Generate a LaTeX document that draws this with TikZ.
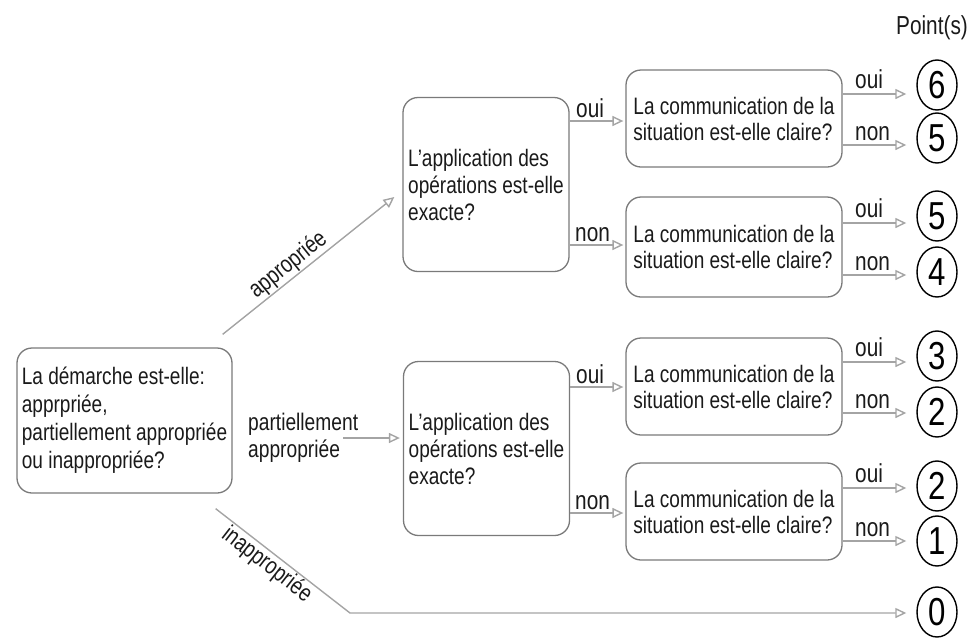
\documentclass[tikz,border=0pt]{standalone}
\usepackage{fontspec}
\setmainfont{Liberation Sans}[FakeStretch=0.8]
\usetikzlibrary{arrows.meta,shapes.geometric,calc}
\definecolor{boxgray}{HTML}{7A7A7A}
\definecolor{linegray}{HTML}{A4A4A4}
\definecolor{txt}{HTML}{1A1A1A}
\begin{document}
\begin{tikzpicture}[x=1pt,y=-1pt,
  box/.style={draw=boxgray, line width=1.3pt, rounded corners=15pt, align=left, inner sep=0pt, text=txt},
  mainbox/.style={box, minimum width=215pt, minimum height=145pt, font=\fontsize{23.8}{28}\selectfont},
  midbox/.style={box, minimum width=166pt, minimum height=174pt, font=\fontsize{23.8}{27}\selectfont},
  combox/.style={box, minimum width=216pt, minimum height=97pt, font=\fontsize{23.8}{26}\selectfont},
  pts/.style={draw=black, line width=1.4pt, ellipse, minimum width=40pt, minimum height=50pt, inner sep=0pt, font=\fontsize{39}{39}\selectfont},
  arr/.style={draw=linegray, line width=1.4pt, -{Triangle[open,length=11pt,width=10pt]}},
  lab/.style={anchor=base west, inner sep=0pt, text=txt, font=\fontsize{26}{26}\selectfont},
  branch/.style={text=txt, inner sep=2pt, font=\fontsize{24}{27}\selectfont}
]
\useasboundingbox (0,0) rectangle (972,638);

% boxes
\node[mainbox] (main) at (124.5,420.5) {La démarche est-elle:\\apprpriée,\\partiellement appropriée\\ou inappropriée?};
\node[midbox] (mid1) at (486,184.5) {L'application des\\opérations est-elle\\exacte?};
\node[midbox] (mid2) at (486.5,448.5) {L'application des\\opérations est-elle\\exacte?};
\node[combox] (B1) at (734,118.5) {La communication de la\\situation est-elle claire?};
\node[combox, minimum height=100pt] (B2) at (734,247) {La communication de la\\situation est-elle claire?};
\node[combox] (B3) at (734,386.5) {La communication de la\\situation est-elle claire?};
\node[combox] (B4) at (734,511.5) {La communication de la\\situation est-elle claire?};

% points
\node[text=txt, font=\fontsize{26}{26}\selectfont] (ptitle) at (932,28) {Point(s)};
\node[pts] (c6)  at (937,85)  {6};
\node[pts] (c5a) at (937,138) {5};
\node[pts] (c5b) at (937,216) {5};
\node[pts] (c4)  at (937,272) {4};
\node[pts] (c3)  at (937,356) {3};
\node[pts] (c2a) at (937,412) {2};
\node[pts] (c2b) at (937,486) {2};
\node[pts] (c1)  at (937,541) {1};
\node[pts] (c0)  at (937,612) {0};

% main branches
\draw[arr, shorten >=0pt] ([xshift=-10pt,yshift=13pt]main.north east)
  -- node[branch, pos=0.43, sloped, above, inner sep=1pt] {appropriée}
  ([xshift=-8pt,yshift=-12.5pt]mid1.west);

\coordinate (pstart) at (343,438);
\draw[arr, shorten >=3pt] (pstart) -- (mid2.west |- pstart);
\node[branch, anchor=base west, inner sep=0pt] (plab1) at (248,430) {partiellement};
\node[branch, anchor=base west, inner sep=0pt] (plab2) at (248,457) {appropriée};

\coordinate (bend) at (350,613);
\draw[arr, shorten >=10pt] ([xshift=-17pt,yshift=-15pt]main.south east)
  -- node[branch, pos=0.44, sloped, below, inner sep=1pt] {inappropriée} (bend)
  -- (c0.west |- bend);

% mid -> communication boxes
\draw[arr, shorten >=2pt] (mid1.east |- 0,121) -- (B1.west |- 0,121);
\node[lab] (l1) at (576,117) {oui};
\draw[arr, shorten >=2pt] (mid1.east |- 0,245) -- (B2.west |- 0,245);
\node[lab] (l2) at (575,241) {non};
\draw[arr, shorten >=2pt] (mid2.east |- 0,387) -- (B3.west |- 0,387);
\node[lab] (l3) at (576,383) {oui};
\draw[arr, shorten >=2pt] (mid2.east |- 0,513) -- (B4.west |- 0,513);
\node[lab] (l4) at (575,509) {non};

% communication boxes -> points
\draw[arr, shorten >=10pt] (B1.east |- 0,94) -- (c6.west |- 0,94);
\node[lab] (r1) at (855,88) {oui};
\draw[arr, shorten >=10pt] (B1.east |- 0,145) -- (c5a.west |- 0,145);
\node[lab] (r2) at (855,140) {non};
\draw[arr, shorten >=10pt] (B2.east |- 0,223) -- (c5b.west |- 0,223);
\node[lab] (r3) at (855,217) {oui};
\draw[arr, shorten >=10pt] (B2.east |- 0,275) -- (c4.west |- 0,275);
\node[lab] (r4) at (855,270) {non};
\draw[arr, shorten >=10pt] (B3.east |- 0,362) -- (c3.west |- 0,362);
\node[lab] (r5) at (855,356) {oui};
\draw[arr, shorten >=10pt] (B3.east |- 0,413) -- (c2a.west |- 0,413);
\node[lab] (r6) at (855,408) {non};
\draw[arr, shorten >=10pt] (B4.east |- 0,488) -- (c2b.west |- 0,488);
\node[lab] (r7) at (855,482) {oui};
\draw[arr, shorten >=10pt] (B4.east |- 0,541) -- (c1.west |- 0,541);
\node[lab] (r8) at (855,536) {non};
\end{tikzpicture}
\end{document}
